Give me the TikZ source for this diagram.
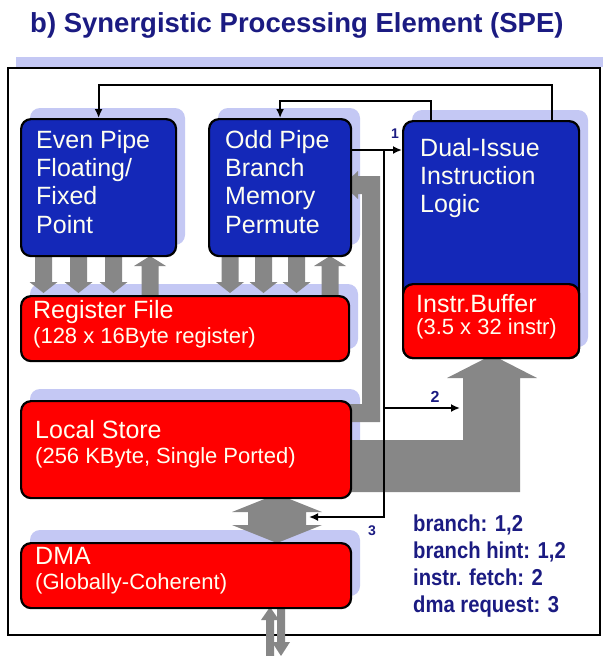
\documentclass[tikz,border=0pt]{standalone}
\usepackage{fontspec}
\setmainfont{Liberation Sans}
\newfontfamily\narrowfont[FakeStretch=0.88]{Liberation Sans}
\usetikzlibrary{arrows.meta}
\definecolor{TitleNavy}{HTML}{1B1B82}
\definecolor{PipeBlue}{HTML}{1428B8}
\definecolor{StoreRed}{HTML}{FF0000}
\definecolor{FlowGrey}{HTML}{878787}
\definecolor{ShadowLilac}{HTML}{C4C8F4}
\definecolor{TextCream}{HTML}{FFFFF0}

\begin{document}
\begin{tikzpicture}[x=1pt,y=-1pt,>=Latex,every node/.style={inner sep=0pt},
unit/.style={draw=black,line width=2.2pt,rounded corners=10pt,fill=PipeBlue,anchor=north west},mem/.style={unit,fill=StoreRed},
shade/.style={fill=ShadowLilac,rounded corners=10pt},flow/.style={fill=FlowGrey},
big/.style={text=TextCream,align=left,font=\fontsize{25}{28.3}\selectfont},small/.style={text=TextCream,anchor=base west,font=\fontsize{22}{26}\selectfont},
wire/.style={line width=2pt,-{Latex[length=9pt,width=8pt]}},tag/.style={text=TitleNavy,font=\bfseries\fontsize{14}{14}\selectfont}]
\fill[white,use as bounding box](0,0)rectangle(603,656);
\node[anchor=base west,text=TitleNavy,font=\bfseries\fontsize{27.5}{30}\selectfont](title)at(30,32){b) Synergistic Processing Element (SPE)};
\fill[ShadowLilac](16,57)rectangle(603,67);\draw[line width=1.6pt,fill=white](8,68)rectangle(600,635);
\fill[shade](30,108)rectangle(185,245);\fill[shade](218,108)rectangle(360,245);\fill[shade](412,110)rectangle(588,347);
\fill[shade](30,284)rectangle(358,349);\fill[shade](30,389)rectangle(360,486);\fill[shade](30,530)rectangle(360,596);
\foreach \c in {43.5,78.5,113.5,230,263.5,296.5}{\fill[flow](\c-8.5,250)--(\c-8.5,282)--(\c-14,282)--(\c,293)--(\c+14,282)--(\c+8.5,282)--(\c+8.5,250)--cycle;}
\foreach \c in {150,330}{\fill[flow](\c-8.5,300)--(\c-8.5,266)--(\c-16,266)--(\c,256)--(\c+16,266)--(\c+8.5,266)--(\c+8.5,300)--cycle;}
\fill[flow](340,422)--(380,422)--(380,176)--(358,176)--(358,171)--(343,185)--(358,199)--(358,194)--(362,194)--(362,404)--(340,404)--cycle;
\fill[flow](340,440)--(463,440)--(463,378)--(447,378)--(492,355)--(537,378)--(520,378)--(520,492)--(340,492)--cycle;
\fill[flow](277,494)--(322,512)--(306,512)--(306,525)--(322,525)--(277,543)--(232,525)--(248,525)--(248,512)--(232,512)--cycle;
\fill[flow](266,660)--(266,620)--(261,620)--(270,607)--(279,620)--(274,620)--(274,660)--cycle;\fill[flow](277,600)--(277,642)--(272,642)--(281,656)--(290,642)--(285,642)--(285,600)--cycle;
\node[unit,minimum width=155pt,minimum height=137pt](even)at(20,118){};\node[unit,minimum width=142pt,minimum height=137pt](odd)at(208,118){};
\node[unit,minimum width=176pt,minimum height=237pt](issue)at(402,120){};\node[mem,minimum width=176pt,minimum height=74pt](buffer)at(402,283){};
\node[mem,minimum width=328pt,minimum height=65pt](regfile)at(20,295){};\node[mem,minimum width=330pt,minimum height=97pt](local)at(20,400){};\node[mem,minimum width=330pt,minimum height=65pt](dma)at(20,542){};
\node[big,anchor=north west](evenT)at(36,130){Even Pipe\\Floating/\\Fixed\\Point};\node[big,anchor=north west](oddT)at(225,130){Odd Pipe\\Branch\\Memory\\Permute};
\node[big,anchor=north west](issueT)at(420,138){Dual-Issue\\Instruction\\Logic};\node[big,anchor=base west](bufferT)at(416,312){Instr.Buffer};\node[small](bufferS)at(416,334){(3.5 x 32 instr)};
\node[big,anchor=base west](regT)at(33,318){Register File};\node[small](regS)at(33,343){(128 x 16Byte register)};
\node[big,anchor=base west](localT)at(35,438){Local Store};\node[small](localS)at(35,463){(256 KByte, Single Ported)};
\node[big,anchor=base west](dmaT)at(35,564){DMA};\node[small](dmaS)at(35,589){(Globally-Coherent)};
\node[anchor=north west,align=left,text=TitleNavy,font=\narrowfont\bfseries\fontsize{23}{27}\selectfont](legend)at(413,515){branch: 1,2\\branch hint: 1,2\\instr. fetch: 2\\dma request: 3};
\coordinate(railA)at(0,85);\coordinate(railB)at(0,101);\coordinate(tap)at(384,150);\coordinate(fetch)at(460,408);\coordinate(dmaport)at(309,517);
\draw[wire]([xshift=-28pt]issue.north east)|-(railA -| even.north)--(even.north);\draw[wire]([xshift=29pt]issue.north west)|-(railB -| odd.north)--(odd.north);
\draw[wire](odd.east |- tap)--(issue.west |- tap);\draw[wire](tap)|-(dmaport);\draw[wire](tap |- fetch)--(fetch);
\node[tag](one)at(395,134){1};\node[tag,font=\bfseries\fontsize{16}{16}\selectfont](two)at(435,397){2};\node[tag](three)at(372,531){3};
\end{tikzpicture}
\end{document}
